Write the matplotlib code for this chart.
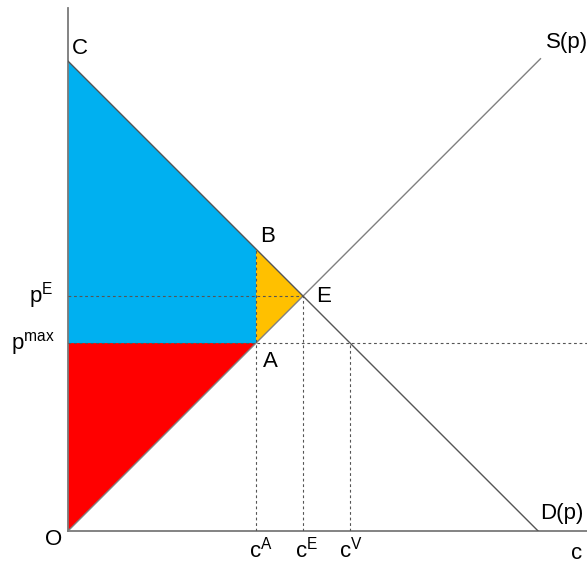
import matplotlib
matplotlib.use("Agg")
import matplotlib.pyplot as plt

plt.rcParams['font.family'] = ['Liberation Sans', 'DejaVu Sans']
plt.rcParams['mathtext.fontset'] = 'custom'
plt.rcParams['mathtext.rm'] = 'Liberation Sans'
plt.rcParams['mathtext.it'] = 'Liberation Sans'

# model values (units)
demand_intercept = 10.0      # C: demand p = C - c
supply_end = 10.05           # supply p = c, drawn up to here
p_E = 5.0
c_E = 5.0
p_max = 4.0
c_A = 4.0
p_B = 6.0
c_V = 6.0
x_max = 11.04
y_max = 11.13

W, H = 587, 563
fig = plt.figure(figsize=(W / 100, H / 100), dpi=100)
ax = fig.add_axes([68 / W, 32 / H, 519 / W, 523 / H])
ax.set_xlim(0, x_max)
ax.set_ylim(0, y_max)
ax.axis('off')

blue = '#00B0F0'
red = '#FF0000'
orange = '#FFC000'
gray = '#808080'

# areas
ax.fill([0, c_A, c_A, 0], [demand_intercept, p_B, p_max, p_max], color=blue, lw=0, zorder=1)
ax.fill([0, c_A, 0], [0, p_max, p_max], color=red, lw=0, zorder=1)
ax.fill([c_A, c_E, c_A], [p_B, p_E, p_max], color=orange, lw=0, zorder=1)

# axes lines
ax.plot([0, 0], [0, y_max], color='#7a7a7a', lw=1.3, zorder=3, clip_on=False)
ax.plot([0, x_max], [0, 0], color='#7a7a7a', lw=1.3, zorder=3, clip_on=False)

# supply and demand
ax.plot([0, supply_end], [0, supply_end], color=gray, lw=1.0, zorder=3)
ax.plot([0, demand_intercept], [demand_intercept, 0], color='#555555', lw=1.0, zorder=3)

# dashed guides
dkw = dict(color='#555555', lw=0.8, ls=(0, (2.5, 2.5)), zorder=4)
ax.plot([0, c_E], [p_E, p_E], **dkw)
ax.plot([0, x_max], [p_max, p_max], **dkw)
ax.plot([c_A, c_A], [0, p_B], **dkw)
ax.plot([c_E, c_E], [0, p_E], **dkw)
ax.plot([c_V, c_V], [0, p_max], **dkw)

fs = 16
def px(x, y):
    return ((x - 68) / 47, (531 - y) / 47)

def lab(s, x, y, ha='center', va='center'):
    xx, yy = px(x, y)
    ax.text(xx, yy, s, fontsize=fs, ha=ha, va=va, clip_on=False, zorder=5)

lab('C', 72, 48, ha='left')
lab('B', 260, 236, ha='left')
lab('E', 316, 296, ha='left')
lab('A', 263, 361, ha='left')
lab('S(p)', 546, 42, ha='left')
lab('D(p)', 540, 513, ha='left')
lab('O', 54, 540)
lab('c', 577, 554)
lab(r'$\mathrm{c}^{\mathrm{A}}$', 261, 550)
lab(r'$\mathrm{c}^{\mathrm{E}}$', 306, 550)
lab(r'$\mathrm{c}^{\mathrm{V}}$', 351, 550)
lab(r'$\mathrm{p}^{\mathrm{E}}$', 53, 296, ha='right')
lab(r'$\mathrm{p}^{\mathrm{max}}$', 55, 343, ha='right')

fig.savefig('out.png', dpi=100)
